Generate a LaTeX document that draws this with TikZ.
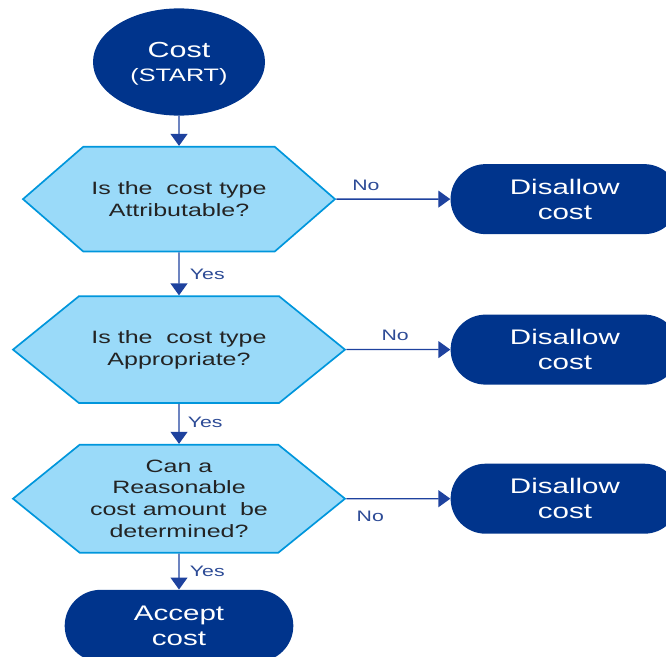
\documentclass[tikz,border=0pt]{standalone}
\usepackage{fontspec}
\setmainfont{Liberation Sans}[FakeStretch=1.4]
\usepackage{tikz}
\usetikzlibrary{positioning,arrows.meta,shapes.geometric,shapes.symbols,shapes.misc}
\definecolor{cbdark}{RGB}{0,52,140}
\definecolor{cblight}{RGB}{154,218,249}
\definecolor{cbedge}{RGB}{0,150,220}
\definecolor{cbline}{RGB}{30,66,158}
\definecolor{cblabel}{RGB}{45,75,150}
\definecolor{cbtext}{RGB}{35,35,35}
\tikzset{
  startnode/.style={ellipse, fill=cbdark, text=white, align=center, minimum width=4.3cm, minimum height=2.68cm, text depth=-5pt, font=\fontsize{15.5}{17}\selectfont},
  decision/.style={signal, signal to=east and west, draw=cbedge, line width=1.2pt, fill=cblight, text=cbtext, align=center, inner sep=0pt, font=\fontsize{12.7}{15.5}\selectfont},
  endbox/.style={rounded rectangle, fill=cbdark, text=white, align=center, minimum width=5.95cm, minimum height=1.75cm, font=\fontsize{15}{17.7}\selectfont},
  arrow/.style={-{Triangle[length=8.5pt, width=12pt]}, line width=0.9pt, cbline},
  lbl/.style={text=cblabel, font=\fontsize{10.8}{12}\selectfont}
}
\begin{document}
\begin{tikzpicture}[node distance=1cm]
    \useasboundingbox (0,0) rectangle (16.65,-16.425);
    \node[startnode] (start) at (4.475,-1.55) {Cost\\{\fontsize{12.8}{15}\selectfont (START)}};
    \node[decision, minimum width=7.8cm, minimum height=2.62cm, signal pointer angle=82, below=0.75cm of start] (attr) {Is the~~cost type\\Attributable?};
    \node[decision, minimum width=8.3cm, minimum height=2.67cm, signal pointer angle=78, below=1.075cm of attr] (appr) {Is the~~cost type\\Appropriate?};
    \node[decision, minimum width=8.3cm, minimum height=2.7cm, signal pointer angle=78, below=1.0cm of appr] (reas) {Can a\\Reasonable\\cost amount~~be\\determined?};
    \node[endbox, minimum height=1.8cm, below=0.9cm of reas] (accept) {Accept\\cost};
    \node[endbox, right=2.85cm of attr] (dis1) {Disallow\\cost};
    \node[endbox, right=2.6cm of appr] (dis2) {Disallow\\cost};
    \node[endbox, right=2.6cm of reas] (dis3) {Disallow\\cost};
    \draw[arrow] (start) -- (attr);
    \draw[arrow] (attr) -- node[lbl, right=4pt] {Yes} (appr);
    \draw[arrow] (appr) -- node[lbl, right=2.5pt, pos=0.45] {Yes} (reas);
    \draw[arrow] (reas) -- node[lbl, right=4pt] {Yes} (accept);
    \draw[arrow] (attr) -- node[lbl, above=2.5pt, pos=0.26] {No} (dis1);
    \draw[arrow] (appr) -- node[lbl, above=2.5pt, pos=0.47] {No} (dis2);
    \draw[arrow] (reas) -- node[lbl, below=5pt, pos=0.23] {No} (dis3);
  \end{tikzpicture}
\end{document}
